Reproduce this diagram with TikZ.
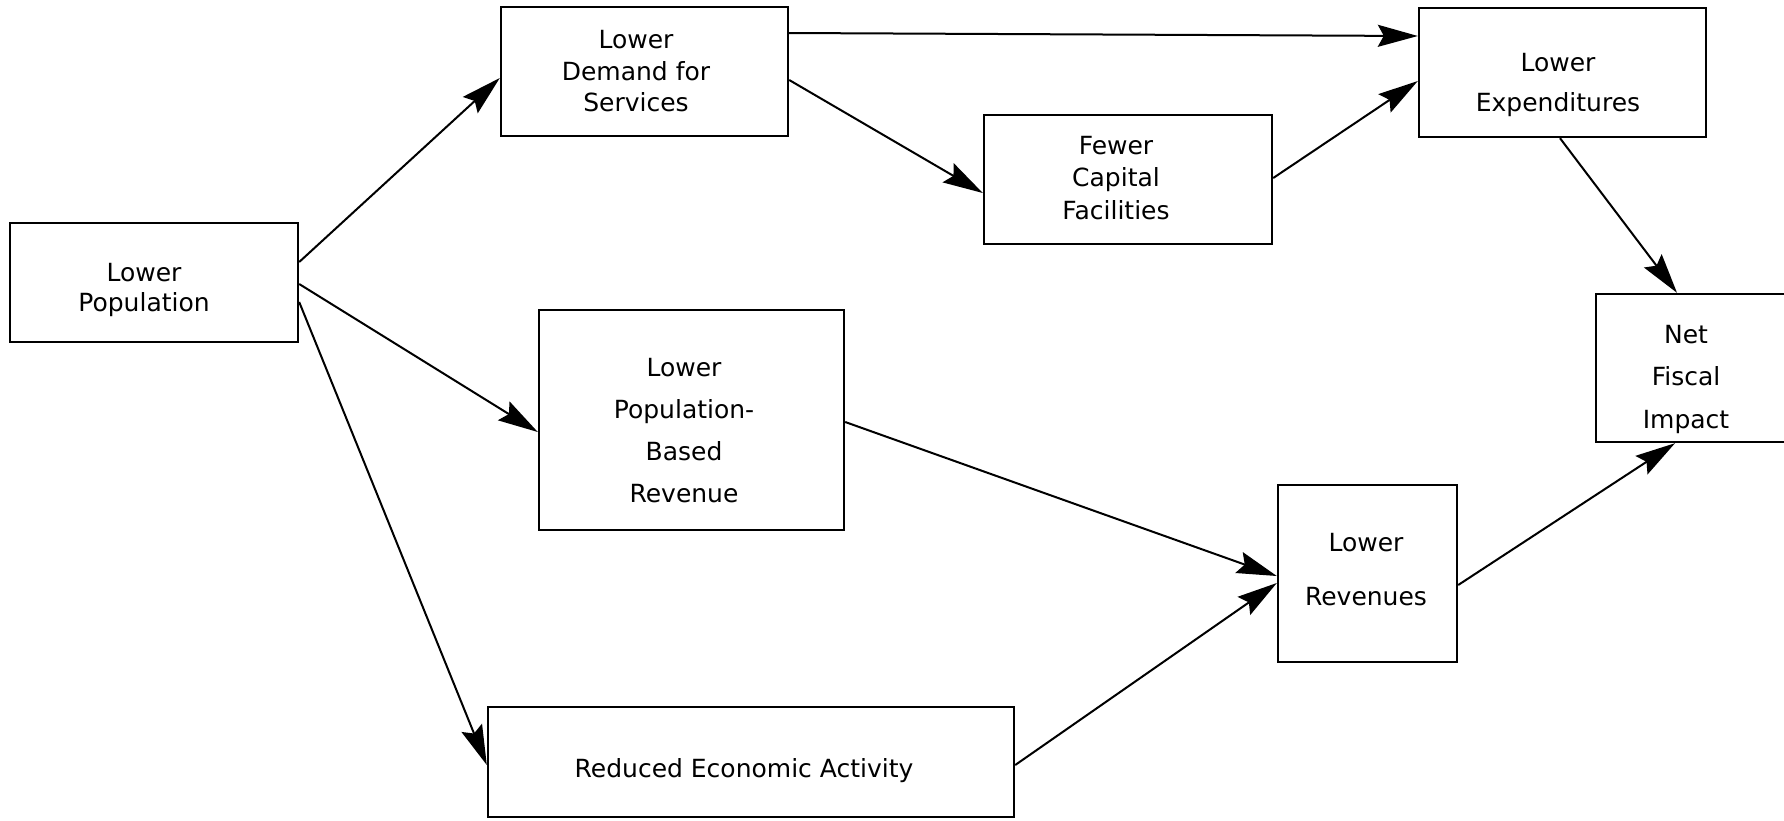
\documentclass[tikz,border=0pt]{standalone}
\usepackage{fontspec}
\setmainfont{DejaVu Sans}
\usetikzlibrary{arrows.meta}
\begin{document}
\begin{tikzpicture}[x=1pt,y=-1pt,
  box/.style={draw, line width=2.4pt, inner sep=0pt},
  txt/.style={align=center, inner sep=0pt, font=\fontsize{25}{#1}\selectfont},
  arr/.style={line width=2pt, -{Stealth[length=40pt,width=22pt,inset=6pt]}}]
\useasboundingbox (0,0) rectangle (1784,820);

% boxes
\node[box, minimum width=288pt, minimum height=119pt] (lp) at (154,282.5) {};
\node[box, minimum width=287pt, minimum height=129pt] (ld) at (644.5,71.5) {};
\node[box, minimum width=287pt, minimum height=129pt] (le) at (1562.5,72.5) {};
\node[box, minimum width=288pt, minimum height=129pt] (fc) at (1128,179.5) {};
\node[box, minimum width=305pt, minimum height=220pt] (pb) at (691.5,420) {};
\node[box, minimum width=526pt, minimum height=110pt] (re) at (751,762) {};
\node[box, minimum width=179pt, minimum height=177pt] (lr) at (1367.5,573.5) {};
\node[box, minimum width=194pt, minimum height=148pt] (nf) at (1693,368) {};

% texts
\node[txt=30] (lp-t) at (144,290) {Lower\\Population};
\node[txt=31.5] (ld-t) at (636,71.5) {Lower\\Demand for\\Services};
\node[txt=40] (le-t) at (1558,84.5) {Lower\\Expenditures};
\node[txt=32.5] (fc-t) at (1116,178) {Fewer\\Capital\\Facilities};
\node[txt=42] (pb-t) at (684,431) {Lower\\Population-\\Based\\Revenue};
\node[txt=30] (re-t) at (744,771) {Reduced Economic Activity};
\node[txt=54] (lr-t) at (1366,570) {Lower\\Revenues};
\node[txt=42.5] (nf-t) at (1686,379) {Net\\Fiscal\\Impact};

% connectors
\draw[arr] ([yshift=20.5pt]lp.east) -- ([yshift=-6.5pt]ld.west);
\draw[arr] ([yshift=-1.5pt]lp.east) -- ([yshift=-12pt]pb.west);
\draw[arr] ([yshift=-19.5pt]lp.east) -- ([yshift=-3pt]re.west);
\draw[arr] ([yshift=38.5pt]ld.east) -- ([yshift=36.5pt]le.west);
\draw[arr] ([yshift=-8.5pt]ld.east) -- ([yshift=-13.5pt]fc.west);
\draw[arr] ([yshift=1.5pt]fc.east) -- ([yshift=-8.5pt]le.west);
\draw[arr] ([xshift=-2.5pt]le.south) -- ([xshift=-16pt]nf.north);
\draw[arr] ([yshift=-11.5pt]lr.east) -- ([xshift=-18pt]nf.south);
\draw[arr] ([yshift=-2pt]pb.east) -- ([yshift=-2.5pt]lr.west);
\draw[arr] ([yshift=-3pt]re.east) -- ([yshift=-9.5pt]lr.west);
\end{tikzpicture}
\end{document}
